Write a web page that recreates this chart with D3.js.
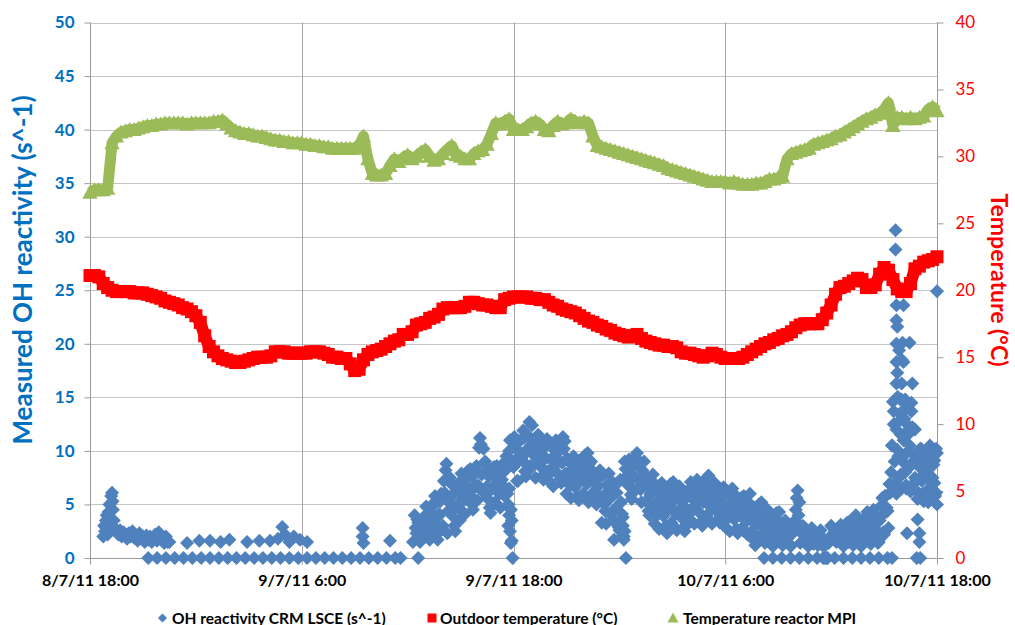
<!DOCTYPE html>
<html><head><meta charset="utf-8">
<script src="https://cdn.jsdelivr.net/npm/d3@7"></script>
<style>
body{margin:0;background:#fff}
svg{display:block}
text{font-family:Lato,"Open Sans",sans-serif}
</style>
</head><body>
<svg id="chart" width="1015" height="625"></svg>
<script>
// ---------- data ----------
const startTime = new Date(2011, 6, 8, 18, 0);
const endTime = new Date(2011, 6, 10, 18, 0);
const xTickHours = [0, 12, 24, 36, 48];
const xTickLabels = ["8/7/11 18:00", "9/7/11 6:00", "9/7/11 18:00", "10/7/11 6:00", "10/7/11 18:00"];
const leftTicks = [0, 5, 10, 15, 20, 25, 30, 35, 40, 45, 50];
const rightTicks = [0, 5, 10, 15, 20, 25, 30, 35, 40];
const seriesNames = ["OH reactivity CRM LSCE (s^-1)", "Outdoor temperature (°C)", "Temperature reactor MPI"];
const leftTitle = "Measured OH reactivity (s^-1)";
const rightTitle = "Temperature (°C)";

// Temperature reactor MPI (°C), one reading every 15 min from 8/7/11 18:00
const reactorStepHours = 0.25;
const reactorTemp = [
27.3,27.5,27.5,27.5,27.6,31.0,31.5,31.8,
31.9,32.0,32.0,32.1,32.2,32.3,32.3,32.4,
32.4,32.5,32.5,32.5,32.5,32.5,32.4,32.5,
32.5,32.5,32.5,32.5,32.6,32.6,32.7,32.4,
32.1,31.9,31.8,31.7,31.7,31.6,31.5,31.5,
31.4,31.3,31.2,31.2,31.1,31.1,31.0,31.0,
31.0,30.9,30.9,30.8,30.8,30.7,30.7,30.6,
30.6,30.6,30.6,30.6,30.6,30.8,31.5,29.8,
28.7,28.6,28.6,28.7,29.3,29.8,29.6,29.9,
30.1,29.8,30.0,30.3,30.5,30.0,29.7,29.8,
30.2,30.5,30.8,30.1,30.0,29.8,29.8,30.2,
30.4,30.5,30.9,31.7,32.5,32.4,32.6,32.8,
32.0,32.0,32.0,32.2,32.5,32.6,32.4,32.0,
31.9,32.3,32.6,32.4,32.5,32.8,32.6,32.5,
32.6,32.5,31.5,30.8,30.7,30.6,30.5,30.4,
30.3,30.2,30.1,30.0,29.9,29.8,29.7,29.6,
29.5,29.4,29.3,29.1,29.0,28.9,28.8,28.7,
28.6,28.5,28.4,28.3,28.2,28.1,28.1,28.1,
28.1,28.0,28.1,28.0,27.9,27.9,27.9,28.0,
28.0,28.1,28.3,28.3,28.4,28.5,29.8,30.2,
30.3,30.4,30.5,30.6,30.9,31.0,31.1,31.2,
31.3,31.5,31.6,31.8,32.0,32.2,32.4,32.6,
32.8,32.9,33.1,33.2,33.5,34.0,32.3,32.9,
32.9,32.8,32.9,32.8,32.9,33.0,33.5,33.7,
33.4];

// Outdoor temperature (°C), one reading every 15 min
const outdoorStepHours = 0.25;
const outdoorTemp = [
21.1,21.1,21.0,20.5, 20.2,20.0,19.9,19.9,
19.9,19.9,19.8,19.8, 19.8,19.7,19.6,19.5,
19.4,19.2,19.1,19.0, 18.9,18.7,18.6,18.4,
18.1,17.6,16.6,15.8, 15.4,15.1,14.9,14.8,
14.7,14.6,14.6,14.7, 14.8,14.9,15.0,15.0,
15.0,15.1,15.4,15.4, 15.4,15.3,15.3,15.3,
15.3,15.3,15.4,15.4, 15.4,15.3,15.2,15.0,
15.0,14.9,14.9,14.5, 14.0,14.1,14.8,15.2,
15.4,15.5,15.6,15.8, 16.0,16.2,16.3,16.7,
16.7,16.9,17.4,17.5, 17.6,17.9,18.0,18.2,
18.6,18.7,18.7,18.7, 18.7,18.8,19.1,19.1,
19.0,18.9,18.9,18.8, 18.7,18.7,19.3,19.4,
19.5,19.5,19.5,19.5, 19.4,19.4,19.3,19.3,
19.1,18.9,18.8,18.6, 18.5,18.4,18.3,18.1,
17.9,17.7,17.6,17.4, 17.3,17.1,17.0,16.8,
16.7,16.6,16.5,16.6, 16.7,16.4,16.2,16.1,
16.0,15.9,15.9,15.8, 15.8,15.7,15.4,15.3,
15.3,15.2,15.1,15.0, 15.1,15.3,15.2,15.0,
14.9,14.9,14.9,14.9, 15.0,15.2,15.4,15.6,
15.8,16.0,16.1,16.3, 16.4,16.6,16.7,16.9,
17.2,17.4,17.5,17.5, 17.5,17.5,17.8,18.3,
18.9,19.7,20.2,20.3, 20.5,20.7,20.9,20.8,
20.2,20.2,20.4,21.2, 21.7,21.5,20.8,20.1,
19.9,19.9,20.5,21.6, 21.8,22.1,22.2,22.3,
22.5];

// OH reactivity (s^-1), active period, instrument A: one reading every 6 min from hour 18.4
const ohStartHourA = 18.4;
const ohStepHours = 0.1;
const ohValuesA = [
4.0,2.3,3.3,1.5,2.8,3.8,2.0,3.6,2.7,4.3,
5.0,3.1,5.1,1.7,4.1,6.0,3.0,6.1,8.8,4.4,
7.5,4.0,6.0,2.5,5.0,7.0,4.5,6.4,5.4,7.3,
8.1,5.9,7.7,4.5,6.8,8.6,6.8,11.2,7.8,10.2,
9.0,5.6,7.6,4.2,6.6,8.5,5.1,7.1,6.0,8.0,
8.8,5.8,9.5,3.0,11.0,1.6,8.5,10.6,7.2,9.5,
11.0,9.1,11.2,7.6,10.2,12.7,8.4,10.7,8.8,10.7,
11.5,8.6,10.2,7.3,9.4,11.1,7.2,9.2,8.1,10.1,
11.0,7.9,10.0,7.0,11.3,10.9,6.0,7.9,6.8,8.7,
9.5,6.6,8.3,5.4,7.4,9.3,5.7,7.9,9.8,8.8,
9.0,6.1,7.5,5.0,6.8,8.2,3.3,5.7,4.4,6.8,
7.9,4.1,6.3,1.7,4.7,7.0,2.6,5.2,3.8,9.0,
7.0,6.8,8.5,5.5,7.7,9.4,9.8,7.4,6.4,8.2,
9.0,5.3,6.9,4.0,6.1,7.8,3.2,5.2,4.1,6.1,
7.0,3.9,5.6,2.3,4.9,6.9,3.1,5.4,4.1,6.4,
6.7,3.8,5.4,2.5,4.6,6.3,3.6,5.6,4.5,6.4,
7.3,4.3,6.0,3.0,5.5,7.4,3.7,5.9,4.7,6.9,
7.0,4.4,5.9,3.3,5.2,6.6,2.9,4.8,3.8,5.7,
6.5,3.6,5.2,2.3,4.0,5.6,2.6,4.4,3.4,5.2,
6.0,2.5,4.1,1.2,3.3,5.0,1.8,3.7,2.7,3.8,
4.5,2.1,3.5,1.1,2.8,4.2,1.6,3.1,1.9,3.0,
3.5,1.8,2.8,1.1,2.3,3.3,4.5,6.3,5.2,2.6,
3.0,1.7,2.4,1.1,2.0,2.8,1.3,2.0,1.6,2.3,
2.6,1.2,0,1.3,0,1.5,3.0,1.9,2.5,1.5,
2.2,1.8,2.8,1.1,2.3,3.3,1.5,2.5,1.9,3.4,
4.0,2.0,3.1,1.1,2.6,3.7,1.6,3.1,2.3,3.8,
4.5,2.1,3.5,1.5,3.8,5.6,2.2,5.8,4.4,6.9,
8.0,14.6,7.0,12.0,9.5,13.5,6.5,11.0,8.0,14.0,
10.0,6.2,12.2,7.0,9.5,5.5,8.5,10.2,6.0,9.0,
7.5,5.2,10.5,6.5,8.7,5.8,9.8];

// OH reactivity, active period, interleaved readings every 6 min from hour 18.45
const ohStartHourB = 18.45;
const ohValuesB = [
2.8,3.6,1.8,2.6,3.4,2.0,4.8,2.9,1.7,3.8,
3.3,5.8,2.2,3.9,5.3,2.7,7.2,8.2,2.3,5.6,
5.0,6.8,3.0,4.8,6.3,3.5,7.9,5.6,4.1,6.6,
6.0,8.3,5.0,6.5,7.9,5.4,10.3,10.6,6.2,8.9,
6.6,8.3,4.7,6.4,7.8,5.2,8.6,6.2,4.7,7.3,
6.7,8.2,6.0,10.0,4.5,9.0,11.3,8.8,7.2,9.9,
9.3,11.9,8.1,9.9,11.4,8.6,12.4,9.6,7.5,10.0,
9.4,10.9,7.7,9.2,10.5,8.1,10.8,8.3,6.7,9.4,
8.8,10.3,7.4,8.9,10.2,7.9,9.3,7.0,5.6,8.1,
7.5,8.9,5.8,7.2,8.6,6.0,9.6,6.9,5.2,8.1,
7.4,8.0,5.4,6.6,7.6,5.7,7.7,5.0,3.2,6.2,
5.5,7.2,3.5,4.4,6.1,2.9,7.3,4.1,2.0,8.3,
7.7,9.2,5.9,7.4,8.7,6.4,8.8,6.6,5.2,7.6,
7.0,7.6,4.4,5.9,7.2,4.8,6.8,4.3,2.7,5.4,
4.8,6.3,3.0,4.6,6.1,3.3,7.1,4.3,2.6,5.6,
4.6,6.1,2.9,4.4,5.7,3.3,7.1,4.7,3.2,5.8,
5.2,6.7,3.4,5.2,6.7,4.0,7.7,5.0,3.2,6.2,
5.2,6.4,3.7,5.0,6.1,4.0,6.3,4.0,2.5,5.0,
4.4,5.9,2.7,4.2,5.0,2.8,5.8,3.6,2.2,4.6,
4.0,4.8,1.6,3.1,4.4,2.0,5.2,2.9,1.4,3.3,
2.8,4.0,1.4,2.6,3.7,1.8,4.3,2.5,1.2,2.7,
2.3,3.1,1.3,2.2,2.9,3.5,5.6,4.0,1.4,2.3,
2.1,2.7,1.3,2.0,2.5,1.5,2.5,1.7,1.2,2.1,
1.8,0,1.2,0,1.4,2.0,2.9,2.1,1.6,2.5,
2.3,3.1,1.3,2.2,2.9,1.6,3.4,2.1,1.2,3.0,
2.6,3.6,1.4,2.4,3.3,1.7,4.3,2.5,1.3,3.3,
2.8,4.0,1.4,3.5,4.9,2.4,5.8,4.7,2.8,6.1,
10.5,13.7,6.9,10.1,12.8,7.8,14.6,9.6,6.5,11.9,
10.5,13.7,6.9,7.5,9.1,6.1,10.2,7.2,5.3,8.6,
7.8,9.7,5.6,7.5,9.1,6.1];

// OH reactivity, other readings (hour since start, value)
const ohExtraHours = [
0.75,0.8,0.85,0.9,0.95,1.0,1.05,1.1,1.15,1.2,1.25,1.28,1.3,1.35,1.4,1.5,1.6,1.7,1.8,1.9,
2.0,2.1,2.2,2.3,2.4,2.5,2.6,2.7,2.8,2.9,3.0,3.1,3.2,3.3,3.4,3.5,3.6,3.7,3.8,3.9,
4.0,4.1,4.2,4.3,4.4,4.5,
5.5,6.2,6.8,7.4,7.9,8.9,9.6,10.2,10.65,10.9,11.05,11.3,11.55,11.9,12.3,15.45,15.45,15.5,17.0,18.3,
3.3,3.8,4.3,4.8,5.3,5.8,6.3,6.8,7.3,7.8,8.3,8.8,9.3,9.8,10.3,10.8,11.3,11.8,12.3,12.8,
13.3,13.8,14.3,14.8,15.3,15.8,16.3,16.8,17.3,17.6,18.6,
23.95,30.37,38.2,38.7,39.2,39.7,40.2,40.7,41.2,41.7,42.2,42.7,43.2,43.7,44.2,44.7,45.2,45.45,46.85,47.05,
23.7,23.75,23.8,23.85,23.75,23.9,30.15,30.2,30.25,30.3,
45.65,45.65,45.7,46.1,45.7,45.75,45.7,46.05,46.45,45.85,46.0,45.7,46.1,45.75,45.7,46.0,46.6,45.8,46.2,
45.45,45.55,45.6,45.75,45.85,45.95,46.05,46.15,46.25,46.35,46.45,46.55,46.65,46.75,45.7,46.0,46.3,
47.05,47.25,47.45,47.65,47.85,47.95,47.55,
46.3,46.9,47.0,47.0,48.0,48.0];
const ohExtraValues = [
2.0,3.0,2.5,3.5,4.0,2.2,4.3,5.0,3.0,5.8,6.1,5.3,4.5,3.5,2.8,2.5,2.2,2.6,2.0,2.4,
2.2,1.8,2.3,2.0,2.5,1.9,2.1,1.6,2.3,1.8,2.0,1.5,2.1,1.7,2.0,1.5,1.8,2.2,1.6,2.4,
2.0,1.8,1.4,2.0,1.5,1.5,
1.4,1.6,1.6,1.5,1.7,1.5,1.6,1.6,1.8,2.9,2.2,1.5,2.0,1.7,1.5,2.8,2.0,1.4,1.6,1.5,
0,0,0,0,0,0,0,0,0,0,0,0,0,0,0,0,0,0,0,0,
0,0,0,0,0,0,0,0,0,0,0,
0,0,0,0,0,0,0,0,0,0,0,0,0,0,0,0,0,0,0,0,
5.0,4.0,2.5,1.4,6.5,3.5,2.0,3.0,1.7,2.5,
30.6,28.8,23.6,23.6,22.2,21.6,20.0,20.1,20.1,19.4,18.5,18.3,18.3,17.3,16.3,16.3,16.3,15.0,14.8,
10.5,12.5,9.0,15.0,7.5,11.5,9.0,13.0,6.8,11.5,8.5,14.5,9.0,12.0,6.0,14.8,12.5,
7.5,9.5,8.0,9.0,7.0,10.2,6.5,
2.3,3.6,2.3,1.5,24.9,5.0];

// ---------- chart ----------
const svg = d3.select("#chart");
const plot = {left: 90, right: 937, top: 22.5, bottom: 558};

const x = d3.scaleTime().domain([startTime, endTime]).range([plot.left, plot.right]);
const yL = d3.scaleLinear().domain([0, 50]).range([plot.bottom, plot.top]);
const yR = d3.scaleLinear().domain([0, 40]).range([plot.bottom, plot.top]);
const hourToDate = h => new Date(startTime.getTime() + h * 3600e3);

const colBlue = "#4F81BD", colRed = "#FF0000", colGreen = "#9BBB59";
const axisBlue = "#0070C0";

// horizontal gridlines
svg.append("g").selectAll("line").data(leftTicks.filter(d => d > 0)).join("line")
  .attr("x1", plot.left).attr("x2", plot.right)
  .attr("y1", d => Math.round(yL(d)) + 0.5).attr("y2", d => Math.round(yL(d)) + 0.5)
  .attr("stroke", "#c4c4c4").attr("stroke-width", 1);
// vertical gridlines
svg.append("g").selectAll("line").data(xTickHours.slice(1)).join("line")
  .attr("x1", d => Math.round(x(hourToDate(d))) + 0.5).attr("x2", d => Math.round(x(hourToDate(d))) + 0.5)
  .attr("y1", plot.top).attr("y2", plot.bottom)
  .attr("stroke", "#a6a6a6").attr("stroke-width", 1);

// left axis
const gL = svg.append("g").attr("transform", `translate(${plot.left + 0.5},0)`)
  .call(d3.axisLeft(yL).tickValues(leftTicks).tickSize(6).tickPadding(10));
gL.select(".domain").attr("stroke", "#9a9a9a").attr("d", `M0,${plot.top}V${plot.bottom}`);
gL.selectAll(".tick line").attr("stroke", "#9a9a9a");
gL.selectAll(".tick text").attr("fill", axisBlue).attr("font-size", 17).attr("font-weight", "bold")
  .attr("font-family", "Lato");

// right axis
const gR = svg.append("g").attr("transform", `translate(${plot.right + 0.5},0)`)
  .call(d3.axisRight(yR).tickValues(rightTicks).tickSize(6).tickPadding(12));
gR.select(".domain").attr("stroke", "#9a9a9a").attr("d", `M0,${plot.top}V${plot.bottom}`);
gR.selectAll(".tick line").attr("stroke", "#9a9a9a");
gR.selectAll(".tick text").attr("fill", colRed).attr("font-size", 17).attr("font-family", "Lato");

// bottom axis
const gB = svg.append("g").attr("transform", `translate(0,${plot.bottom + 0.5})`)
  .call(d3.axisBottom(x).tickValues(xTickHours.map(hourToDate)).tickSize(6).tickPadding(10)
    .tickFormat((d, i) => xTickLabels[i]));
gB.select(".domain").attr("stroke", "#9a9a9a").attr("d", `M${plot.left},0H${plot.right}`);
gB.selectAll(".tick line").attr("stroke", "#9a9a9a");
gB.selectAll(".tick text").attr("fill", "#000").attr("font-size", 16).attr("font-weight", "bold")
  .attr("font-family", "Lato");

// marker paths
const diamond = r => `M0,${-r}L${r},0L0,${r}L${-r},0Z`;
const square = s => `M${-s/2},${-s/2}h${s}v${s}h${-s}Z`;
const triangle = s => `M0,${-s*0.55}L${s*0.55},${s*0.45}L${-s*0.55},${s*0.45}Z`;

// OH reactivity points
const ohPts = ohValuesA.map((v, i) => ({h: ohStartHourA + i * ohStepHours, v}))
  .concat(ohValuesB.map((v, i) => ({h: ohStartHourB + i * ohStepHours, v})))
  .concat(ohExtraHours.map((h, i) => ({h, v: ohExtraValues[i]})))
  .sort((a, b) => a.h - b.h);
svg.append("g").selectAll("path").data(ohPts).join("path")
  .attr("d", diamond(7))
  .attr("transform", d => `translate(${x(hourToDate(d.h))},${yL(d.v)})`)
  .attr("fill", colBlue);

// Outdoor temperature
const outPts = outdoorTemp.map((v, i) => ({h: i * outdoorStepHours, v}));
const lineR = d3.line().x(d => x(hourToDate(d.h))).y(d => yR(d.v));
svg.append("path").datum(outPts).attr("d", lineR).attr("fill", "none")
  .attr("stroke", colRed).attr("stroke-width", 12).attr("stroke-linejoin", "round");
svg.append("g").selectAll("path").data(outPts).join("path")
  .attr("d", square(13))
  .attr("transform", d => `translate(${x(hourToDate(d.h))},${yR(d.v)})`)
  .attr("fill", colRed);

// Reactor temperature
const reaPts = reactorTemp.map((v, i) => ({h: i * reactorStepHours, v}));
svg.append("path").datum(reaPts).attr("d", lineR).attr("fill", "none")
  .attr("stroke", colGreen).attr("stroke-width", 11).attr("stroke-linejoin", "round");
svg.append("g").selectAll("path").data(reaPts).join("path")
  .attr("d", triangle(14))
  .attr("transform", d => `translate(${x(hourToDate(d.h))},${yR(d.v)})`)
  .attr("fill", colGreen);

// axis titles
svg.append("text").attr("transform", "translate(32,270) rotate(-90)")
  .attr("text-anchor", "middle").attr("fill", axisBlue).attr("font-size", 26).attr("font-weight", "bold")
  .text(leftTitle);
svg.append("text").attr("transform", "translate(991,280) rotate(90)")
  .attr("text-anchor", "middle").attr("fill", colRed).attr("font-size", 23).attr("font-weight", "bold")
  .text(rightTitle);

// legend
const legend = [
  {name: seriesNames[0], color: colBlue, shape: diamond(4.6), mx: 162.5, tx: 172},
  {name: seriesNames[1], color: colRed, shape: square(9), mx: 432, tx: 440},
  {name: seriesNames[2], color: colGreen, shape: triangle(10), mx: 673, tx: 683}
];
const lg = svg.append("g");
legend.forEach(it => {
  lg.append("path").attr("d", it.shape).attr("transform", `translate(${it.mx},618)`).attr("fill", it.color);
  lg.append("text").attr("x", it.tx).attr("y", 623.5).attr("font-size", 15.5).attr("font-weight", "bold")
    .attr("fill", "#000").text(it.name);
});
</script>
</body></html>
